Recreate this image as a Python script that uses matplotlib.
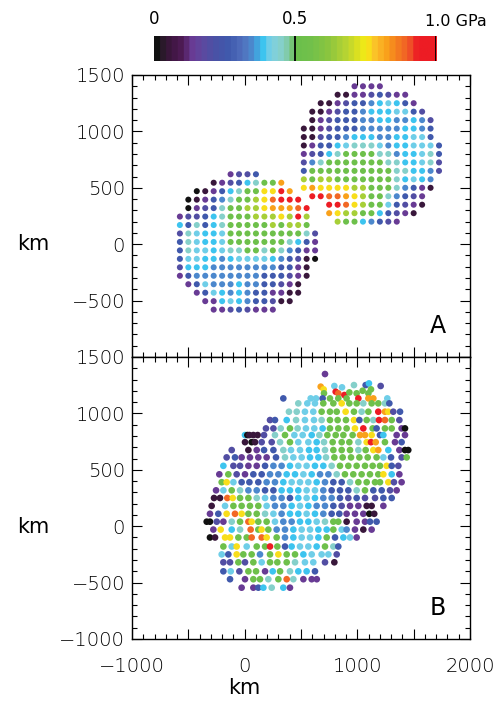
import numpy as np
import matplotlib
matplotlib.use("Agg")
import matplotlib.pyplot as plt
from matplotlib.colors import LinearSegmentedColormap
from matplotlib.ticker import MultipleLocator, FuncFormatter
from matplotlib.font_manager import FontProperties

# ---------------- colour scale ----------------
cbar_values = [0.0, 0.02, 0.05, 0.09, 0.13, 0.17, 0.21, 0.26, 0.31, 0.35, 0.38,
               0.41, 0.45, 0.48, 0.50, 0.56, 0.62, 0.68, 0.72, 0.755, 0.79, 0.83,
               0.87, 0.91, 0.94, 1.0]
cbar_colors = ['#111111', '#2a1a2a', '#3e1640', '#4f1b55', '#6a3d98', '#5b4aa0',
               '#4a52a6', '#3f5aad', '#5270bd', '#4a8fd2', '#36c3f0', '#7dd0e6',
               '#86d0c8', '#7ec89a', '#6abf4b', '#72c14b', '#8cc63f', '#b5d334',
               '#d7df23', '#f7ec14', '#fbc02a', '#f9a11b', '#f47b20', '#f05a28',
               '#ed1c24', '#ed1c24']
cbar_ticks = [0.0, 0.5, 1.0]
cbar_ticklabels = ['0', '0.5', '1.0 GPa']

# pressure level codes used in the strings below (GPa)
level_codes = {'k': 0.01, 'd': 0.06, 'p': 0.13, 'v': 0.19, 'b': 0.25, 'm': 0.34,
               'c': 0.375, 'l': 0.41, 't': 0.455, 'g': 0.53, 'y': 0.66,
               'Y': 0.755, 'o': 0.82, 'O': 0.88, 'r': 0.96}

# ---------------- panel A: two gridded bodies ----------------
grid_spacing_km = 75.0
lower_x0, lower_y0 = -575.0, 620.0
lower_start_col = [6, 4, 2, 1, 1, 0, 0, 0, 0, 0, 0, 0, 0, 1, 2, 3, 4]
lower_rows = ["pvvb",
              "dpvbctggo",
              "kdpbctggYYro",
              "kdpbmtggyYOrrr",
              "kpvbtggyyYoooOr",
              "pvvbctgggyyyYyry",
              "cbtbctgggggygyyg",
              "vtlcclgggggggggtv",
              "btlcclgggggggtcbp",
              "btllclttggtgtmbpp",
              "bllccmcllllcmbvdk",
              "vcccmmmmmmmmbbpd",
              "pbmmmmmmmmbbbvpd",
              "pblmmmcmmbbvpd",
              "pblcmcmbbppdd",
              "ppclcmbbvdd",
              "ppvbvppp"]

upper_x0, upper_y0 = 525.0, 1400.0
upper_start_col = [6, 4, 2, 1, 1, 0, 0, 0, 0, 0, 0, 0, 0, 1, 3, 3, 4]
upper_rows = ["pppp",
              "ddppvbvpp",
              "ddpvbbmclcbp",
              "ddpvbbmcccllbv",
              "dpvbbbmmccmmcmv",
              "ddpvbbbmmmmmccmb",
              "ddvbbmcccmmccllb",
              "dpbbcltttlmcclllb",
              "pvbctggggttmccltb",
              "vmtgggggggttccltv",
              "bggggggggggttccmv",
              "ygyygggggggtclcm",
              "YoYYYYyygggtmbpd",
              "rrOOoYyggtmbvp",
              "rrOYygglbvpd",
              "oYyyggcbvpd",
              "yggcmbvp"]

# ---------------- panel B: merged body, read strip by strip ----------------
# each strip: (y in km, or list of y per point), x positions in km, level codes
b_strips = [
    (1349, [713], "p"),
    ([1237, 1213, 1243, 1231, 1251, 1251, 1266, 1243],
     [675, 701, 796, 864, 970, 1074, 1103, 1207], "oYlltbcv"),
    ([1178, 1192, 1178, 1163, 1186, 1178, 1201, 1178, 1213],
     [704, 808, 831, 885, 929, 994, 1047, 1098, 1121], "grOrggggg"),
    (1133, [343, 586, 633, 692, 757, 831, 905, 1009, 1098, 1142, 1266], "bllbgggrool"),
    (1089, [476, 556, 624, 698, 787, 861, 929, 994, 1053, 1127, 1186, 1245, 1284],
     "tllggYggtggtb"),
    (1015, [393, 462, 535, 609, 683, 757, 817, 896, 970, 1038, 1098, 1186, 1245, 1275,
            1319, 1379], "ttllgggYgtgroYvb"),
    (941, [225, 269, 373, 456, 535, 615, 683, 757, 825, 899, 970, 1018, 1083, 1142,
           1192, 1245, 1305, 1373], "vbctlltgggYbgtrOgv"),
    (867, [189, 255, 320, 402, 470, 544, 618, 692, 757, 831, 905, 979, 1053, 1136,
           1171, 1245, 1305, 1393, 1423], "vvtgtllcgggYrgbggpk"),
    (808, [3, 24, 42, 77, 115, 172, 269, 358, 441, 515, 595, 663, 734, 808, 876, 958,
           1024, 1068, 1127, 1201, 1231, 1349, 1423], "ckdddvtgllctggggooYbcpp"),
    (745, [3, 62, 92, 151, 240, 314, 402, 476, 565, 639, 704, 781, 861, 929, 1009,
           1083, 1121, 1163, 1245, 1334, 1393], "dkdvvtgllctgggtYrogpb"),
    (675, [-115, 33, 107, 172, 255, 343, 411, 491, 571, 639, 713, 787, 861, 935, 1009,
           1074, 1142, 1186, 1275, 1373, 1423, 1452], "vdpbbtllcctgggtgYocpkk"),
    (610, [-160, -86, -27, 47, 121, 195, 278, 358, 432, 506, 580, 654, 722, 796, 870,
           944, 1018, 1092, 1171, 1231, 1299, 1393, 1438], "vbppppbtllcctgggggglbvg"),
    (535, [-189, -100, -41, 33, 107, 181, 255, 328, 402, 476, 550, 624, 698, 772, 846,
           920, 994, 1068, 1136, 1201, 1260, 1305, 1364], "cvvppbmmcllcctggggggYbv"),
    (460, [-225, -145, -71, 3, 77, 151, 225, 299, 373, 447, 521, 595, 669, 743, 817,
           890, 964, 1038, 1112, 1186, 1231, 1305, 1373], "pgvpbbmmcclcmmtgggggYcp"),
    (390, [-204, -160, -100, -27, 42, 121, 195, 269, 343, 417, 491, 565, 639, 713, 787,
           861, 935, 1009, 1083, 1157, 1201, 1275, 1325, 1393], "gYlbbbmmclllcmbbtggggYvp"),
    (318, [-254, -189, -115, -41, 33, 107, 181, 255, 328, 402, 476, 550, 624, 698, 772,
           846, 920, 994, 1068, 1142, 1216, 1290, 1349], "plgtmmbbcccllmbbbtgbbvp"),
    (250, [-272, -219, -154, -106, -41, 33, 107, 181, 255, 328, 402, 476, 550, 624, 698,
           772, 846, 920, 994, 1068, 1157, 1231, 1305], "ddOYggtlmmbclcmmbvbvvbb"),
    (180, [-293, -174, -100, -27, 47, 121, 195, 269, 343, 417, 491, 565, 639, 713, 787,
           861, 935, 1009, 1083, 1127, 1231], "dlgggglmmclcmmbvppddp"),
    (110, [-308, -234, -160, -86, -27, 33, 107, 181, 255, 328, 402, 476, 550, 624, 698,
           772, 840, 905, 979, 1053, 1106, 1150], "pbYOYggtlmcclcmbbpppkd"),
    (40, [-337, -308, -248, -189, -115, -41, 33, 62, 121, 195, 269, 343, 417, 491, 565,
          639, 713, 787, 831, 905, 994, 1068, 1112, 1171], "kkvptgOYgglmmccltggdppbb"),
    (-30, [-278, -213, -115, -41, 53, 121, 150, 210, 284, 358, 432, 506, 580, 654, 728,
           787, 861, 905, 979, 1053, 1127], "pYctOgYgmmcllccglmpdp"),
    (-100, [-308, -263, -174, -130, -56, 18, 62, 151, 195, 284, 358, 432, 506, 580, 654,
            728, 802, 876, 935, 994], "kdYYggOOYgmcllcgbclp"),
    (-180, [-189, -115, -71, 18, 107, 181, 225, 290, 358, 417, 491, 565, 639, 713, 787,
            831], "glYlggrgbcllcgtb"),
    (-250, [-204, -145, -71, -12, 62, 136, 225, 299, 373, 447, 521, 595, 683, 743, 817],
     "lbYggmgYggclllv"),
    (-320, [-189, -130, -56, 3, 77, 151, 225, 290, 373, 447, 535, 609, 713, 796],
     "vvgvglgggtllvd"),
    (-400, [-189, -124, -47, 33, 101, 181, 249, 314, 402, 476, 550, 624], "blvggpcgtccb"),
    (-470, [-130, 3, 77, 136, 210, 299, 373, 432, 521, 595, 640], "bpggtgOtppp"),
    (-545, [-27, 77, 121, 166, 240, 343, 402], "ppbctcp"),
]

x_limits = (-1000, 2000)
y_limits = (-1000, 1500)
x_ticklabels_at = [-1000, 0, 1000, 2000]
panel_labels = ['A', 'B']
axis_label = 'km'


def expand(rows, starts, x0, y0, dx):
    xs, ys, vs = [], [], []
    for r, (row, s) in enumerate(zip(rows, starts)):
        for j, ch in enumerate(row):
            xs.append(x0 + (s + j) * dx)
            ys.append(y0 - r * dx)
            vs.append(level_codes[ch])
    return xs, ys, vs


lx, ly, lv = expand(lower_rows, lower_start_col, lower_x0, lower_y0, grid_spacing_km)
ux, uy, uv = expand(upper_rows, upper_start_col, upper_x0, upper_y0, grid_spacing_km)
a_x = np.array(lx + ux)
a_y = np.array(ly + uy)
a_v = np.array(lv + uv)

bxs, bys, bvs = [], [], []
for yv, xs, codes in b_strips:
    assert len(xs) == len(codes)
    ys = yv if isinstance(yv, list) else [yv] * len(xs)
    bxs += xs
    bys += ys
    bvs += [level_codes[c] for c in codes]
bx, by, bv = np.array(bxs), np.array(bys), np.array(bvs)

base = LinearSegmentedColormap.from_list('press', list(zip(cbar_values, cbar_colors)))
cmap = base.resampled(48)

W, H = 503, 704
fig = plt.figure(figsize=(W / 100, H / 100), dpi=100)


def fx(px):
    return px / W


def fy(py):
    return 1 - py / H


tick_fp = FontProperties(family='DejaVu Sans', weight=200, size=14)

axA = fig.add_axes([fx(132), fy(357), 338 / W, 282 / H])
axB = fig.add_axes([fx(132), fy(639), 338 / W, 282 / H])

axA.scatter(a_x, a_y, c=a_v, cmap=cmap, vmin=0, vmax=1, s=19, linewidths=0)
axB.scatter(bx, by, c=bv, cmap=cmap, vmin=0, vmax=1, s=23, linewidths=0)

for i, ax in enumerate([axA, axB]):
    ax.set_xlim(*x_limits)
    ax.set_ylim(*y_limits)
    ax.xaxis.set_major_locator(MultipleLocator(500))
    ax.xaxis.set_minor_locator(MultipleLocator(100))
    ax.yaxis.set_major_locator(MultipleLocator(500))
    ax.yaxis.set_minor_locator(MultipleLocator(100))
    ax.tick_params(which='both', direction='in', top=True, right=True, width=0.8)
    ax.tick_params(which='major', length=7)
    ax.tick_params(which='minor', length=3.5)
    ax.tick_params(axis='y', pad=5)
    ax.tick_params(axis='x', pad=13)
    for sp in ax.spines.values():
        sp.set_linewidth(1.0)
    ax.text(0.905, 0.11, panel_labels[i], transform=ax.transAxes, fontsize=17,
            ha='center', va='center', family='DejaVu Sans')


def num(v):
    return ('\u2212%d' % -v) if v < 0 else '%d' % v


def yfmtA(v, pos):
    return '' if v < -600 else num(v)


def yfmtB(v, pos):
    return num(v)


def xfmt(v, pos):
    return num(v) if int(round(v)) in x_ticklabels_at else ''


axA.yaxis.set_major_formatter(FuncFormatter(yfmtA))
axB.yaxis.set_major_formatter(FuncFormatter(yfmtB))
axA.xaxis.set_major_formatter(FuncFormatter(lambda v, p: ''))
axB.xaxis.set_major_formatter(FuncFormatter(xfmt))
for ax in (axA, axB):
    for lab in ax.get_xticklabels() + ax.get_yticklabels():
        lab.set_fontproperties(tick_fp)

# axis titles
fig.text(fx(33), fy(244), axis_label, fontsize=15, ha='center', va='center')
fig.text(fx(33), fy(527), axis_label, fontsize=15, ha='center', va='center')
fig.text(fx(244), fy(688), axis_label, fontsize=15, ha='center', va='center')

# colour bar
cax = fig.add_axes([fx(154), fy(61), 282 / W, 25 / H])
grad = np.linspace(0, 1, 512)[None, :]
cax.imshow(grad, cmap=cmap, aspect='auto', extent=[0, 1, 0, 1], vmin=0, vmax=1)
cax.axvline(0.5, color='black', lw=1.3)
cax.axvline(1.0, color='black', lw=1.3)
cax.set_xlim(0, 1)
cax.set_ylim(0, 1)
cax.set_xticks([])
cax.set_yticks([])
for sp in cax.spines.values():
    sp.set_visible(False)
cax.text(cbar_ticks[0], 1.3, cbar_ticklabels[0], ha='center', va='bottom',
         fontsize=12, transform=cax.transAxes)
cax.text(cbar_ticks[1], 1.3, cbar_ticklabels[1], ha='center', va='bottom',
         fontsize=12, transform=cax.transAxes)
cax.text(cbar_ticks[2] - 0.04, 1.3, cbar_ticklabels[2], ha='left', va='bottom',
         fontsize=11.5, transform=cax.transAxes)

fig.savefig('out.png', dpi=100)
